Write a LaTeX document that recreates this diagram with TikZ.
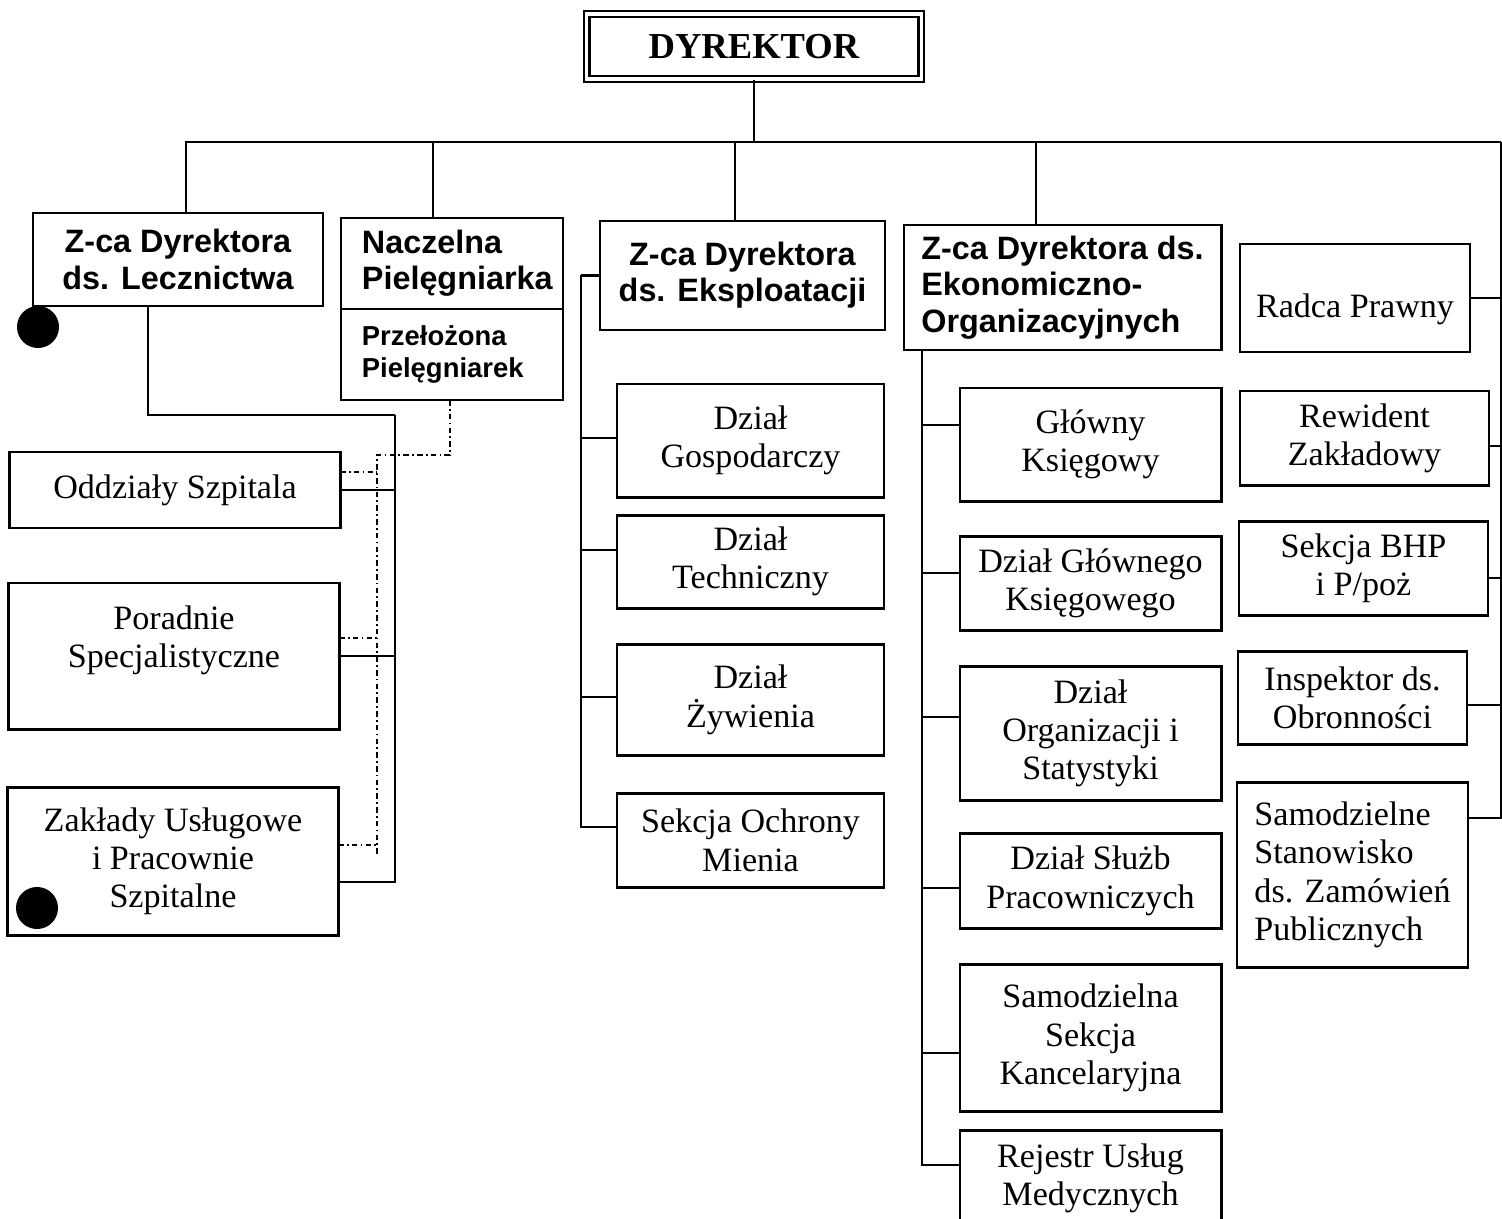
\documentclass[tikz,border=0pt]{standalone}
\usepackage{fontspec}
\setmainfont{Liberation Serif}
\setsansfont{Liberation Sans}
\usetikzlibrary{positioning}

\begin{document}
\begin{tikzpicture}[x=0.01cm, y=-0.01cm, line width=0.6pt,
headbox/.style={draw, rectangle, line width=0.8pt, inner sep=1pt, outer sep=0pt, font=\sffamily\bfseries\fontsize{9.2}{10.3}\selectfont},
unitbox/.style={draw, rectangle, line width=0.8pt, inner sep=1pt, outer sep=0pt, align=center, font=\fontsize{9.7}{10.9}\selectfont},
dashlink/.style={dash pattern=on 1.6pt off 0.9pt on 0.5pt off 0.9pt},
blackdot/.style={circle, fill=black, inner sep=0pt, minimum size=0.42cm},
]
\useasboundingbox (0,0) rectangle (1502,1219);

\node[draw, double, double distance=0.9pt, line width=0.7pt, minimum width=3.34cm, minimum height=0.65cm, font=\bfseries\fontsize{10.4}{12}\selectfont] (dyr) at (754,46.5) {DYREKTOR};

% deputies
\node[headbox, align=center, minimum width=2.9cm, minimum height=0.93cm] (lecz) at (178,259.5) {Z-ca Dyrektora\\ds. Lecznictwa};
\node[headbox, align=left, text width=1.8cm, minimum width=2.22cm, minimum height=0.91cm] (nacz) at (452,263.5) {Naczelna\\Pielęgniarka};
\node[headbox, align=left, text width=1.8cm, minimum width=2.22cm, minimum height=0.91cm, below=0pt of nacz, font=\sffamily\bfseries\fontsize{7.8}{9.1}\selectfont] (przel) {Przełożona\\Pielęgniarek};
\node[headbox, align=center, minimum width=2.85cm, minimum height=1.09cm] (eksp) at (742.5,275.5) {Z-ca Dyrektora\\ds. Eksploatacji};
\node[headbox, align=left, minimum width=3.17cm, minimum height=1.25cm] (ekon) at (1062.5,287.5) {Z-ca Dyrektora ds.\\Ekonomiczno-\\Organizacyjnych};
\node[unitbox, minimum width=2.3cm, minimum height=1.08cm, text height=0.47cm] (radca) at (1355,298) {Radca Prawny};

% lecznictwo
\node[unitbox, minimum width=3.3cm, minimum height=0.76cm] (oddz) at (175,490) {Oddziały Szpitala};
\node[unitbox, minimum width=3.3cm, minimum height=1.46cm, below=0.55cm of oddz, xshift=-0.01cm] (por) {Poradnie\\Specjalistyczne\\~};
\node[unitbox, minimum width=3.3cm, minimum height=1.48cm, below=0.58cm of por, xshift=-0.01cm] (zak) {Zakłady Usługowe\\i Pracownie\\Szpitalne};
\node[blackdot] (dot1) at (38,327) {};
\node[blackdot] (dot2) at (37,908) {};

% eksploatacja
\node[unitbox, minimum width=2.67cm, minimum height=1.13cm, below=0.54cm of eksp, xshift=0.08cm] (gosp) {Dział\\Gospodarczy};
\node[unitbox, minimum width=2.67cm, minimum height=0.93cm, below=0.18cm of gosp] (tech) {Dział\\Techniczny};
\node[unitbox, minimum width=2.67cm, minimum height=1.11cm, below=0.36cm of tech] (zyw) {Dział\\Żywienia};
\node[unitbox, minimum width=2.67cm, minimum height=0.94cm, below=0.38cm of zyw] (ochr) {Sekcja Ochrony\\Mienia};

% ekonomia i organizacja
\node[unitbox, minimum width=2.61cm, minimum height=1.13cm, below=0.38cm of ekon, xshift=0.28cm] (gk) {Główny\\Księgowy};
\node[unitbox, minimum width=2.61cm, minimum height=0.94cm, below=0.35cm of gk] (dgk) {Dział Głównego\\Księgowego};
\node[unitbox, minimum width=2.61cm, minimum height=1.34cm, below=0.36cm of dgk] (dos) {Dział\\Organizacji i\\Statystyki};
\node[unitbox, minimum width=2.61cm, minimum height=0.95cm, below=0.33cm of dos] (dsp) {Dział Służb\\Pracowniczych};
\node[unitbox, minimum width=2.61cm, minimum height=1.47cm, below=0.36cm of dsp] (ssk) {Samodzielna\\Sekcja\\Kancelaryjna};
\node[unitbox, minimum width=2.61cm, minimum height=0.95cm, below=0.19cm of ssk] (rum) {Rejestr Usług\\Medycznych};

% stanowiska przy dyrektorze
\node[unitbox, minimum width=2.49cm, minimum height=0.94cm, below=0.39cm of radca, xshift=0.095cm] (rew) {Rewident\\Zakładowy};
\node[unitbox, minimum width=2.49cm, minimum height=0.94cm, below=0.36cm of rew, xshift=-0.01cm] (bhp) {Sekcja BHP\\i P/poż};
\node[unitbox, minimum width=2.29cm, minimum height=0.93cm, below=0.36cm of bhp, xshift=-0.11cm] (insp) {Inspektor ds.\\Obronności};
\node[unitbox, align=left, minimum width=2.31cm, minimum height=1.85cm, below=0.38cm of insp] (samo) {Samodzielne\\Stanowisko\\ds. Zamówień\\Publicznych};

% connectors
\coordinate (bus) at (751,142);
\coordinate (eastend) at (1501,142);
\draw (dyr.south) -- (dyr.south |- bus);
\draw ([xshift=0.08cm]lecz.north) |- (eastend);
\draw ([xshift=-0.19cm]nacz.north) |- (bus);
\draw ([xshift=-0.075cm]eksp.north) |- (bus);
\draw ([xshift=-0.265cm]ekon.north) |- (bus);

\foreach \n/\s in {radca/0, rew/-0.08, bhp/-0.1, insp/-0.075, samo/0.565}
  \draw ([yshift=\s cm]\n.east) -| (eastend);

\coordinate (kcol) at (922,350);
\foreach \n/\s in {gk/0.2, dgk/0.1, dos/0.16, dsp/-0.07, ssk/-0.15, rum/0.13}
  \draw ([yshift=\s cm]\n.west) -| (kcol);

\coordinate (ecol) at (581,275.5);
\draw (eksp.west) -- (ecol);
\foreach \n/\s in {gosp/0.03, tech/0.12, zyw/0.03, ochr/0.13}
  \draw ([yshift=\s cm]\n.west) -| (ecol);

\coordinate (lbus) at (395,415);
\draw ([xshift=-0.3cm]lecz.south) |- (lbus);
\foreach \n/\s in {oddz/0, por/0, zak/-0.21}
  \draw ([yshift=\s cm]\n.east) -| (lbus);

% nadzor pielegniarski
\coordinate (dbus) at (377,455);
\coordinate (dend) at (377,857);
\draw[dashlink] ([xshift=-0.02cm]przel.south) |- (dbus) -- (dend);
\foreach \n/\s in {oddz/0.18, por/0.18, zak/0.16} {
  \coordinate (d\n) at ([yshift=\s cm]\n.east);
  \draw[dashlink] (d\n) -- (d\n -| dbus);
}
\end{tikzpicture}
\end{document}
